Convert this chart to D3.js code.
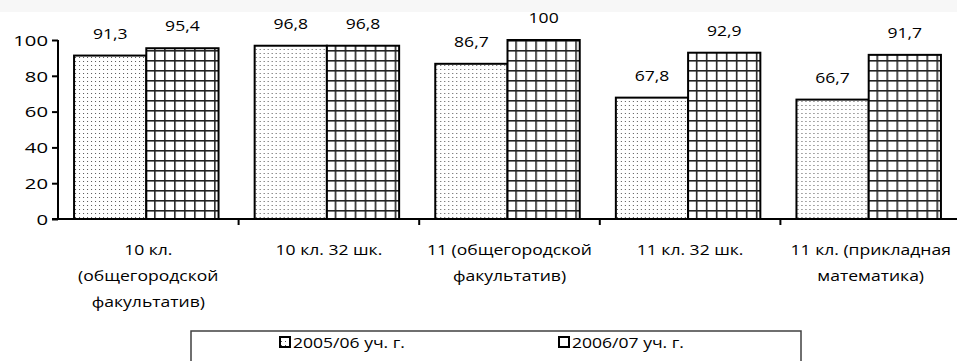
<!DOCTYPE html>
<html><head><meta charset="utf-8">
<script src="https://cdn.jsdelivr.net/npm/d3@7"></script>
<style>
html,body{margin:0;padding:0;background:#fff;}
svg{display:block;}
text{font-family:"Open Sans",sans-serif;fill:#000;}
</style></head>
<body>
<svg id="c" width="957" height="361"></svg>
<script>
const categories = [
  "10 кл.\n(общегородской\nфакультатив)",
  "10 кл. 32 шк.",
  "11 (общегородской\nфакультатив)",
  "11 кл. 32 шк.",
  "11 кл. (прикладная\nматематика)"
];
const seriesNames = ["2005/06 уч. г.", "2006/07 уч. г."];
const values2005 = [91.3, 96.8, 86.7, 67.8, 66.7];
const values2006 = [95.4, 96.8, 100, 92.9, 91.7];
const yTicks = [0, 20, 40, 60, 80, 100];

const FONT = "'Open Sans',sans-serif";
const FS = 15;
const SX = 1.17;
const SXY = 1.35;
const svg = d3.select("#c");
svg.append("rect").attr("x",0).attr("y",0).attr("width",957).attr("height",12).attr("fill","#f7f7f7");

const defs = svg.append("defs");
const dots = defs.append("pattern").attr("id","dots").attr("patternUnits","userSpaceOnUse")
  .attr("width",4).attr("height",4);
dots.append("rect").attr("width",4).attr("height",4).attr("fill","#fff");
dots.append("rect").attr("x",1).attr("y",1).attr("width",1).attr("height",1).attr("fill","#555");
const grid = defs.append("pattern").attr("id","grid").attr("patternUnits","userSpaceOnUse")
  .attr("width",10).attr("height",10);
grid.append("rect").attr("width",10).attr("height",10).attr("fill","#fff");
grid.append("rect").attr("x",0).attr("y",0).attr("width",1.6).attr("height",10).attr("fill","#222");
grid.append("rect").attr("x",0).attr("y",0).attr("width",10).attr("height",1.6).attr("fill","#222");
const fills = ["url(#dots)","url(#grid)"];

const x0 = d3.scaleBand().domain(categories).range([58, 961]).paddingInner(0.2).paddingOuter(0.1);
const x1 = d3.scaleBand().domain(seriesNames).range([0, x0.bandwidth()]);
const y = d3.scaleLinear().domain([0, 100]).range([219, 40]);

const data = categories.map((c,i)=>({cat:c, vals:[
  {s:seriesNames[0], v:values2005[i], k:0},
  {s:seriesNames[1], v:values2006[i], k:1}]}));

const fmt = v => String(v).replace(".", ",");
const st = (x,yy,s) => `translate(${x},${yy}) scale(${s||SX},1)`;

const g = svg.append("g");
const groups = g.selectAll("g.grp").data(data).join("g")
  .attr("transform", d=>`translate(${x0(d.cat)-2},0)`);
groups.selectAll("rect").data(d=>d.vals).join("rect")
  .attr("x", d=>x1(d.s)).attr("y", d=>y(d.v))
  .attr("width", x1.bandwidth()).attr("height", d=>y(0)-y(d.v))
  .attr("fill", d=>fills[d.k]).attr("stroke","#000").attr("stroke-width",2);
groups.selectAll("text.val").data(d=>d.vals).join("text").attr("class","val")
  .attr("transform", d=>st(x1(d.s)+x1.bandwidth()/2, y(d.v)-17))
  .attr("text-anchor","middle").attr("font-size",FS).text(d=>fmt(d.v));

// y axis
const yAxis = d3.axisLeft(y).tickValues(yTicks).tickSize(6).tickPadding(4);
const ya = svg.append("g").attr("transform","translate(58,0)").call(yAxis);
ya.select(".domain").attr("stroke","#000").attr("stroke-width",2).attr("d","M0,40V219");
ya.selectAll(".tick line").attr("stroke","#000").attr("stroke-width",2);
ya.selectAll(".tick text").attr("x",null).attr("dy","0.35em").attr("transform",st(-10,0,SXY))
  .attr("font-size",FS).attr("font-family",FONT).attr("fill","#000");

// x axis
const xAxis = d3.axisBottom(x0).tickSize(0).tickPadding(0);
const xa = svg.append("g").attr("transform","translate(0,219)").call(xAxis);
xa.select(".domain").attr("stroke","#000").attr("stroke-width",2).attr("d","M52,0H957");
xa.selectAll(".tick text").remove();
const step = x0.step();
const bounds = d3.range(1, categories.length).map(i=>x0.range()[0]+i*step);
xa.selectAll("line.bt").data(bounds).join("line").attr("class","bt")
  .attr("x1",d=>d).attr("x2",d=>d).attr("y1",0).attr("y2",6).attr("stroke","#000").attr("stroke-width",2);
xa.selectAll(".tick").each(function(d){
  const t = d3.select(this).append("text").attr("text-anchor","middle").attr("font-size",FS)
    .attr("font-family",FONT).attr("fill","#000").attr("transform",st(0,0));
  d.split("\n").forEach((ln,i)=>{
    t.append("tspan").attr("x",0).attr("y",36+i*26).text(ln);
  });
});

// legend
const lg = svg.append("g");
lg.append("rect").attr("x",191).attr("y",331).attr("width",610).attr("height",40)
  .attr("fill","#fff").attr("stroke","#404040").attr("stroke-width",1.5);
const legX = [279, 558];
seriesNames.forEach((s,i)=>{
  lg.append("rect").attr("x",legX[i]+1).attr("y",337).attr("width",10).attr("height",10)
    .attr("fill", fills[i]==="url(#grid)"?"#fff":fills[i]).attr("stroke","#000").attr("stroke-width",2);
  lg.append("text").attr("transform",st(legX[i]+14,348)).attr("font-size",FS).text(s);
});
</script>
</body></html>
